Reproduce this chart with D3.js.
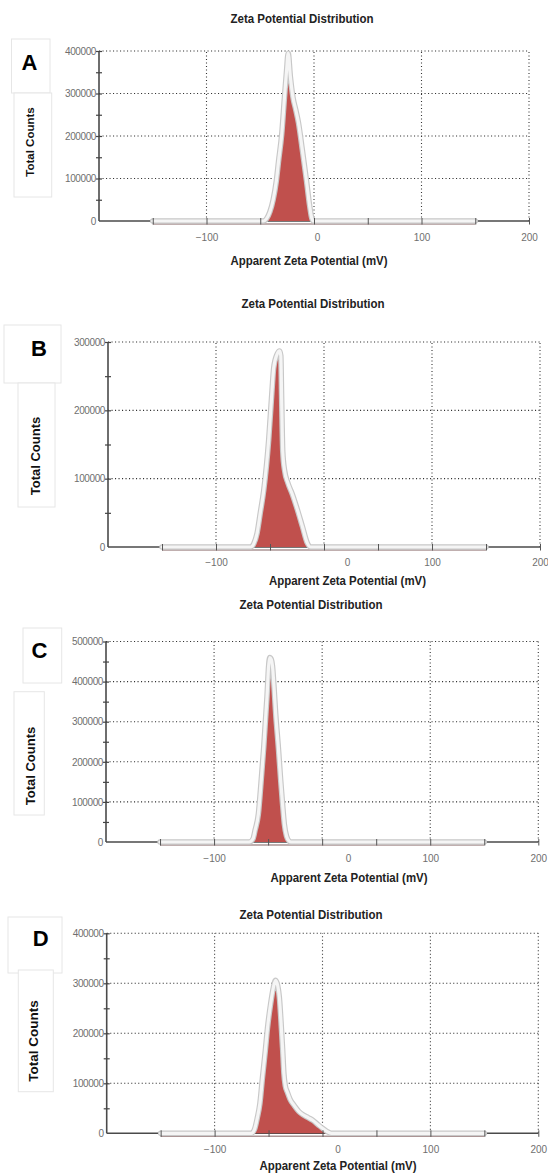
<!DOCTYPE html>
<html>
<head>
<meta charset="utf-8">
<script src="https://cdn.jsdelivr.net/npm/d3@7"></script>
<style>
body { margin: 0; background: #fff; }
svg { display: block; }
text { font-family: "Liberation Sans", Arial, sans-serif; }
</style>
</head>
<body>
<script>
// ---- data ----
var mvA = [-150, -47, -44, -41, -38, -35, -33, -30, -27.5, -25.5, -24, -22, -19.5, -17, -14.5, -11, -7, -4, -2, -0.5, 150];
var countsA = [0, 0, 6000, 22000, 50000, 95000, 140000, 205000, 290000, 355000, 395000, 340000, 290000, 262000, 232000, 170000, 95000, 35000, 6000, 0, 0];

var mvB = [-150, -68, -65, -62, -59, -55.8, -51.2, -48.1, -46.6, -43.5, -41, -40, -39.2, -38.2, -36.5, -33.5, -29.5, -25.5, -20, -15.5, -12.5, 150];
var countsB = [0, 0, 5000, 20000, 50000, 83000, 157000, 230000, 262000, 282000, 287000, 280000, 215000, 140000, 112000, 94000, 78000, 59000, 30000, 6000, 0, 0];

var mvC = [-150, -67.5, -64, -62, -59, -56.5, -54, -51, -49.5, -48.5, -47, -46, -44.5, -43, -40.5, -38.4, -36.5, -35, -33, -30.5, -29, 150];
var countsC = [0, 0, 8000, 30000, 70000, 150000, 238000, 364000, 440000, 460000, 455000, 440000, 385000, 320000, 235000, 155000, 90000, 45000, 15000, 2000, 0, 0];

var mvD = [-150, -66, -63, -60.5, -58, -55.7, -53, -51, -48, -45.5, -43.5, -41.5, -40, -38.5, -37, -35.8, -34.5, -32.5, -30, -26, -22, -18, -13, -9, -4, 0, 4, 8, 150];
var countsD = [0, 0, 8000, 30000, 60000, 110000, 165000, 210000, 260000, 292000, 306000, 295000, 272000, 225000, 170000, 120000, 95000, 82000, 68000, 55000, 44000, 37000, 31000, 26000, 17000, 10000, 4000, 0, 0];

var yTicksA = [0, 100000, 200000, 300000, 400000];
var yTicksB = [0, 100000, 200000, 300000];
var yTicksC = [0, 100000, 200000, 300000, 400000, 500000];
var yTicksD = [0, 100000, 200000, 300000, 400000];

var xTickLabels = [-100, 0, 100, 200];
var letters = ["A", "B", "C", "D"];
var titleText = "Zeta Potential Distribution";
var xLabelText = "Apparent Zeta Potential (mV)";
var yLabelText = "Total Counts";

// ---- layout of each pasted panel ----
var panels = [
  { mv: mvA, counts: countsA, yTicks: yTicksA, yMax: 400000,
    left: 99, right: 529, top: 51, bottom: 221,
    titleX: 302, titleY: 19, tickY: 237, labelX: 309, labelY: 261, zeroShift: 3,
    letterX: 29.5, letterY: 62, letterBox: [11.5, 39, 38.5, 54],
    tcX: 30, tcY: 142, tcSize: 11.5, tcBox: [14, 93, 37.7, 104] },
  { mv: mvB, counts: countsB, yTicks: yTicksB, yMax: 300000,
    left: 108, right: 540, top: 342, bottom: 547,
    titleX: 313, titleY: 304, tickY: 562, labelX: 347.5, labelY: 581, zeroShift: 23,
    letterX: 39, letterY: 348, letterBox: [4, 325, 57, 58],
    tcX: 35, tcY: 456, tcSize: 13, tcBox: [18, 383, 37, 124] },
  { mv: mvC, counts: countsC, yTicks: yTicksC, yMax: 500000,
    left: 106, right: 538.3, top: 641.5, bottom: 842,
    titleX: 311, titleY: 605, tickY: 858.5, labelX: 349, labelY: 878, zeroShift: 26,
    letterX: 39.5, letterY: 650, letterBox: [23, 628, 38.7, 55],
    tcX: 30, tcY: 766, tcSize: 13, tcBox: [14, 691.7, 30.3, 123.3] },
  { mv: mvD, counts: countsD, yTicks: yTicksD, yMax: 400000,
    left: 106.7, right: 538.3, top: 933.3, bottom: 1133.3,
    titleX: 311, titleY: 915, tickY: 1149, labelX: 338, labelY: 1166, zeroShift: 15,
    letterX: 40.7, letterY: 938, letterBox: [8, 917, 54, 56],
    tcX: 33.5, tcY: 1041, tcSize: 13.5, tcBox: [18.3, 970, 35, 121.7] }
];

var svg = d3.select("body").append("svg")
    .attr("width", 548)
    .attr("height", 1175);

panels.forEach(function(p, i) {
  var x = d3.scaleLinear().domain([-200, 200]).range([p.left, p.right]);
  var y = d3.scaleLinear().domain([0, p.yMax]).range([p.bottom, p.top]);
  var pts = p.mv.map(function(v, k) { return [v, p.counts[k]]; });
  var g = svg.append("g");

  // pasted label boxes
  g.append("rect")
    .attr("x", p.letterBox[0]).attr("y", p.letterBox[1])
    .attr("width", p.letterBox[2]).attr("height", p.letterBox[3])
    .attr("fill", "#fff").attr("stroke", "#e6e6e6");
  g.append("rect")
    .attr("x", p.tcBox[0]).attr("y", p.tcBox[1])
    .attr("width", p.tcBox[2]).attr("height", p.tcBox[3])
    .attr("fill", "#fff").attr("stroke", "#e6e6e6");

  g.append("text")
    .attr("x", p.letterX).attr("y", p.letterY).attr("dy", "0.35em")
    .attr("text-anchor", "middle")
    .attr("font-size", 22).attr("font-weight", "bold").attr("fill", "#000")
    .text(letters[i]);

  g.append("text")
    .attr("transform", "translate(" + p.tcX + "," + p.tcY + ") rotate(-90)")
    .attr("dy", "0.35em")
    .attr("text-anchor", "middle")
    .attr("font-size", p.tcSize).attr("font-weight", "bold").attr("fill", "#111")
    .text(yLabelText);

  // title and x label
  g.append("text")
    .attr("x", p.titleX).attr("y", p.titleY).attr("dy", "0.35em")
    .attr("text-anchor", "middle")
    .attr("font-size", 12).attr("font-weight", "bold").attr("fill", "#222")
    .attr("textLength", 143).attr("lengthAdjust", "spacingAndGlyphs")
    .text(titleText);
  g.append("text")
    .attr("x", p.labelX).attr("y", p.labelY).attr("dy", "0.35em")
    .attr("text-anchor", "middle")
    .attr("font-size", 12).attr("font-weight", "bold").attr("fill", "#222")
    .attr("textLength", 157).attr("lengthAdjust", "spacingAndGlyphs")
    .text(xLabelText);

  // dotted grid
  g.append("g").selectAll("line")
    .data(p.yTicks.filter(function(d) { return d > 0; }))
    .join("line")
    .attr("x1", x(-200)).attr("x2", x(200))
    .attr("y1", y).attr("y2", y)
    .attr("stroke", "#333").attr("stroke-width", 1.1)
    .attr("stroke-dasharray", "1.1,2.4");
  g.append("g").selectAll("line")
    .data(xTickLabels)
    .join("line")
    .attr("x1", x).attr("x2", x)
    .attr("y1", y(0)).attr("y2", y(p.yMax))
    .attr("stroke", "#333").attr("stroke-width", 1.1)
    .attr("stroke-dasharray", "1.1,2.4");

  // axis lines
  g.append("line")
    .attr("x1", x(-200)).attr("x2", x(200))
    .attr("y1", y(0)).attr("y2", y(0))
    .attr("stroke", "#4a4a4a").attr("stroke-width", 1.4);
  g.append("line")
    .attr("x1", x(-200)).attr("x2", x(-200))
    .attr("y1", y(0)).attr("y2", y(p.yMax))
    .attr("stroke", "#4a4a4a").attr("stroke-width", 1.6);

  // distribution
  var area = d3.area()
    .x(function(d) { return x(d[0]); })
    .y0(y(0))
    .y1(function(d) { return y(d[1]); })
    .curve(d3.curveMonotoneX);
  var line = d3.line()
    .x(function(d) { return x(d[0]); })
    .y(function(d) { return y(d[1]); })
    .curve(d3.curveMonotoneX);

  g.append("path").datum(pts)
    .attr("d", area)
    .attr("fill", "#c0504d");
  g.append("line")
    .attr("x1", x(-150)).attr("x2", x(150))
    .attr("y1", y(0) + 3).attr("y2", y(0) + 3)
    .attr("stroke", "#ab9595").attr("stroke-width", 1.6);
  g.append("path").datum(pts)
    .attr("d", line)
    .attr("fill", "none")
    .attr("stroke", "#c8c8c8").attr("stroke-width", 5.5)
    .attr("stroke-linejoin", "round").attr("stroke-linecap", "round");
  g.append("path").datum(pts)
    .attr("d", line)
    .attr("fill", "none")
    .attr("stroke", "#f5f5f5").attr("stroke-width", 3.2)
    .attr("stroke-linejoin", "round").attr("stroke-linecap", "round");

  // tick marks
  var xt = g.append("g")
    .attr("transform", "translate(0," + y(0) + ")")
    .call(d3.axisBottom(x).tickValues(d3.range(-150, 201, 50)).tickSize(3.5).tickFormat(""));
  xt.select(".domain").remove();
  xt.selectAll(".tick line").attr("y1", -3).attr("stroke", "#555").attr("stroke-width", 1);

  var yt = g.append("g")
    .attr("transform", "translate(" + x(-200) + ",0)")
    .call(d3.axisLeft(y).tickValues(d3.range(50000, p.yMax + 1, 50000)).tickSize(3).tickFormat(""));
  yt.select(".domain").remove();
  yt.selectAll(".tick line").attr("x1", 3).attr("stroke", "#444").attr("stroke-width", 1.2);

  // tick labels
  var xl = g.append("g")
    .attr("transform", "translate(0," + p.tickY + ")")
    .call(d3.axisBottom(x).tickValues(xTickLabels).tickSize(0).tickPadding(0));
  xl.select(".domain").remove();
  xl.selectAll("text")
    .attr("y", 0).attr("dy", "0.35em")
    .attr("font-size", 10).attr("fill", "#6f6f6f")
    .attr("font-family", "Liberation Sans, Arial, sans-serif");
  xl.selectAll(".tick").filter(function(d) { return d === 0; })
    .select("text").attr("x", p.zeroShift);

  var yl = g.append("g")
    .attr("transform", "translate(" + (x(-200) - 3) + ",0)")
    .call(d3.axisLeft(y).tickValues(p.yTicks).tickSize(0).tickPadding(0).tickFormat(d3.format("d")));
  yl.select(".domain").remove();
  yl.selectAll("text")
    .attr("font-size", 10).attr("fill", "#6f6f6f")
    .attr("letter-spacing", -0.4)
    .attr("font-family", "Liberation Sans, Arial, sans-serif");
});
</script>
</body>
</html>
